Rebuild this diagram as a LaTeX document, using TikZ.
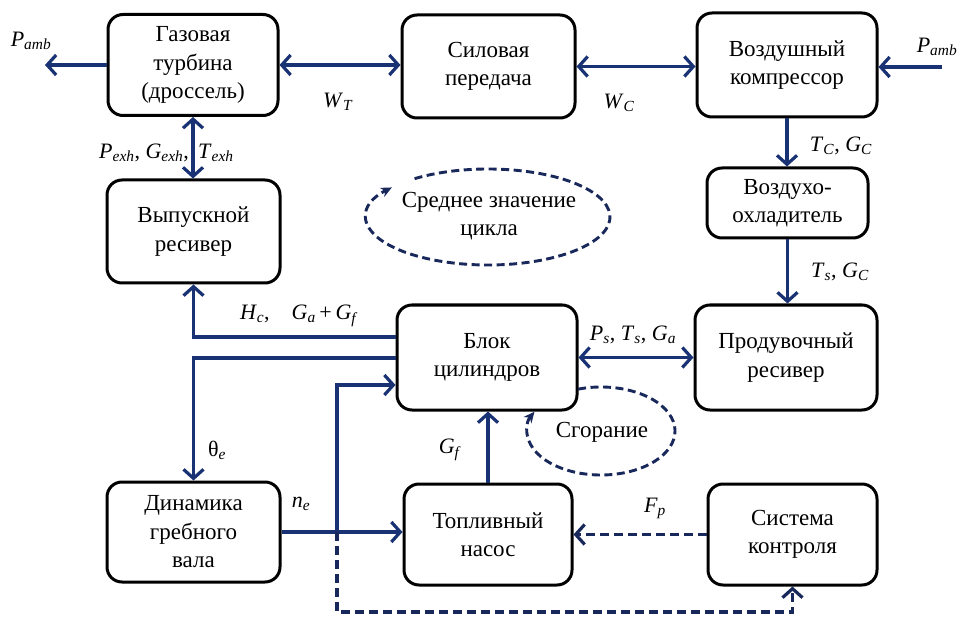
\documentclass[tikz,border=0pt]{standalone}
\usepackage{fontspec}
\setmainfont{Liberation Serif}
\usetikzlibrary{arrows.meta,calc}
\definecolor{navy}{RGB}{25,50,115}
\definecolor{dnavy}{RGB}{25,40,90}
\newcommand{\mv}[2]{\textit{#1}\textsubscript{\textit{#2}}}
\begin{document}
\begin{tikzpicture}[x=1pt,y=-1pt,
  >={Straight Barb[length=9pt,width=20pt]},
  box/.style={draw=black, line width=3pt, rounded corners=15pt, align=center, inner sep=0pt, font=\fontsize{23}{28.5}\selectfont},
  conn/.style={draw=navy, line width=3.2pt},
  dconn/.style={draw=dnavy, line width=3.2pt, dash pattern=on 9pt off 5pt},
  dell/.style={draw=dnavy, line width=2.9pt, dash pattern=on 8pt off 4.5pt, -{Stealth[length=11pt,width=10pt]}},
  lab/.style={font=\fontsize{22}{24}\selectfont, inner sep=1pt},
  txt/.style={align=center, font=\fontsize{23}{28.5}\selectfont}
]
\fill[white] (0,0) rectangle (960,617);
\useasboundingbox (0,0) rectangle (960,617);

% boxes
\node[box, minimum width=170pt, minimum height=101pt] (turb) at (193,65) {Газовая\\турбина\\(дроссель)};
\node[box, minimum width=173pt, minimum height=103pt] (trans) at (488.5,66.5) {Силовая\\передача};
\node[box, minimum width=180pt, minimum height=104pt] (comp) at (787,65) {Воздушный\\компрессор};
\node[box, minimum width=161pt, minimum height=70pt] (cool) at (787.5,203) {Воздухо-\\охладитель};
\node[box, minimum width=182pt, minimum height=105pt] (purge) at (786,357.5) {Продувочный\\ресивер};
\node[box, minimum width=173pt, minimum height=103pt] (exh) at (193.5,231.5) {Выпускной\\ресивер};
\node[box, minimum width=180pt, minimum height=105pt] (cyl) at (487,357.5) {Блок\\цилиндров};
\node[box, minimum width=173pt, minimum height=100pt] (dyn) at (193.5,532) {Динамика\\гребного\\вала};
\node[box, minimum width=168pt, minimum height=101pt] (pump) at (488,534.5) {Топливный\\насос};
\node[box, minimum width=169pt, minimum height=101pt] (ctrl) at (792.5,534.5) {Система\\контроля};

% ellipse texts
\node[txt] (mean) at (489,216) {Среднее значение\\цикла};
\node[txt] (comb) at (602,432) {Сгорание};

% free ends
\coordinate (pl) at (45,65);
\coordinate (pr) at (942,67);
\coordinate (j) at (337,532);
\coordinate (b) at (337,612);

% connectors
\draw[conn,->] (turb.west) -- (pl);
\draw[conn,->] (pr) -- (pr -| comp.east);
\draw[conn,<->] (turb.east) -- (turb.east -| trans.west);
\draw[conn,<->] (trans.east) -- (trans.east -| comp.west);
\draw[conn,->] (comp.south) -- (comp.south |- cool.north);
\draw[conn,->] (cool.south) -- (cool.south |- purge.north);
\draw[conn,<->] (turb.south) -- (turb.south |- exh.north);
\draw[conn,<->] (cyl.east) -- (cyl.east -| purge.west);
\draw[conn,->] ($(cyl.west)+(0,-20.5)$) -| (exh.south);
\draw[conn,->] ($(cyl.west)+(0,0.5)$) -| (dyn.north);
\draw[conn,->] (j) |- ($(cyl.west)+(0,27.5)$);
\draw[conn,->] (dyn.east) -- (dyn.east -| pump.west);
\draw[conn,->] (pump.north) -- (pump.north |- cyl.south);
\draw[dconn,->] (ctrl.west) -- (pump.east);
\draw[dconn,->] (j) -- (b) -| (ctrl.south);

% dashed ellipses
\draw[dell] (488,217) ++(233:122 and 48) arc[start angle=233, end angle=578, x radius=122, y radius=48];
\draw[dell] (601,431) ++(252:74 and 44) arc[start angle=252, end angle=566, x radius=74, y radius=44];

% labels
\node[lab] (lpl) at (31,41) {\mv{P}{amb}};
\node[lab] (lpr) at (937,47) {\mv{P}{amb}};
\node[lab] (lwt) at (338,102) {\mv{W}{T}};
\node[lab] (lwc) at (619,103) {\mv{W}{C}};
\node[lab, anchor=east] (lpe) at (190,153) {\mv{P}{exh}, \mv{G}{exh},};
\node[lab, anchor=west] (lte) at (197,153) {\mv{T}{exh}};
\node[lab] (ltc) at (841,146) {\mv{T}{C}, \mv{G}{C}};
\node[lab] (lts) at (840,272) {\mv{T}{s}, \mv{G}{C}};
\node[lab] (lhc) at (299,316) {\mv{H}{c},\quad \mv{G}{a}\,+\,\mv{G}{f}};
\node[lab] (lps) at (633,335) {\mv{P}{s}, \mv{T}{s}, \mv{G}{a}};
\node[lab] (lgf) at (450,450) {\mv{G}{f}};
\node[lab] (lth) at (217,450) {θ\textsubscript{\textit{e}}};
\node[lab] (lne) at (301,504) {\mv{n}{e}};
\node[lab] (lfp) at (655,508) {\mv{F}{p}};
\end{tikzpicture}
\end{document}
